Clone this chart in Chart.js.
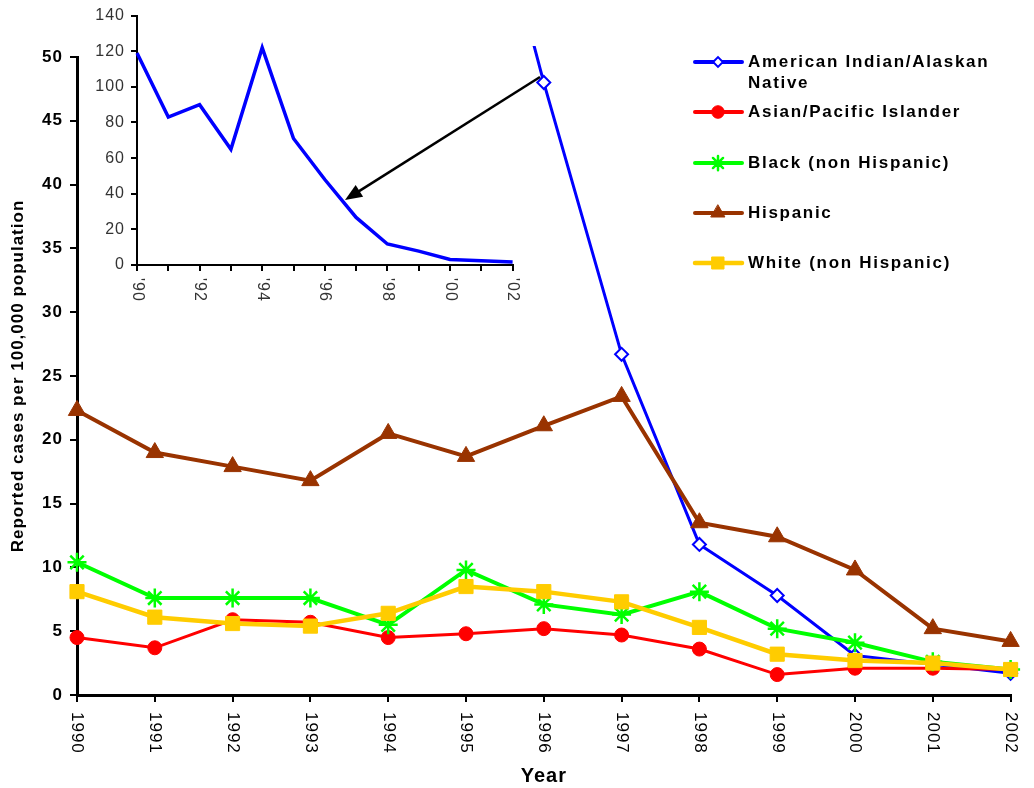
<!DOCTYPE html>
<html>
<head>
<meta charset="utf-8">
<script src="https://cdn.jsdelivr.net/npm/chart.js@4.4.1/dist/chart.umd.min.js"></script>
<style>
  body { margin: 0; background: #fff; }
  #wrap { position: relative; width: 1034px; height: 788px; }
  #main { position: absolute; left: 0; top: 0; }
  #inset { position: absolute; left: 80px; top: 0; }
</style>
</head>
<body>
<div id="wrap">
  <canvas id="main" width="1034" height="788"></canvas>
  <canvas id="inset" width="450" height="310"></canvas>
</div>
<script>
// data
const years = [1990, 1991, 1992, 1993, 1994, 1995, 1996, 1997, 1998, 1999, 2000, 2001, 2002];
const insetTickLabels = ["'90", "", "'92", "", "'94", "", "'96", "", "'98", "", "'00", "", "'02"];
const amIndian = [119, 83, 90, 65, 122, 71, 48.0, 26.7, 11.8, 7.8, 3.1, 2.4, 1.7];
const asian    = [4.5, 3.7, 5.9, 5.7, 4.5, 4.8, 5.2, 4.7, 3.6, 1.6, 2.1, 2.1, 2.0];
const black    = [10.4, 7.6, 7.6, 7.6, 5.5, 9.8, 7.1, 6.3, 8.1, 5.2, 4.1, 2.6, 2.0];
const hispanic = [22.3, 19.0, 17.9, 16.8, 20.5, 18.7, 21.1, 23.4, 13.5, 12.4, 9.8, 5.2, 4.2];
const white    = [8.1, 6.1, 5.6, 5.4, 6.4, 8.5, 8.1, 7.3, 5.3, 3.2, 2.7, 2.5, 2.0];
const seriesNames = [
  ['American Indian/Alaskan', 'Native'],
  ['Asian/Pacific Islander'],
  ['Black (non Hispanic)'],
  ['Hispanic'],
  ['White (non Hispanic)']
];

Chart.defaults.font.family = '"Liberation Sans", Arial, sans-serif';
Chart.defaults.color = '#000';

var clipBox = {left: 15, top: 11, right: 15, bottom: 15};

function ds(data, color, width, style, radius, fill, bw, order) {
  return {
    data: data,
    borderColor: color,
    borderWidth: width,
    pointStyle: style,
    pointRadius: radius,
    pointBackgroundColor: fill,
    pointBorderColor: color,
    pointBorderWidth: bw,
    tension: 0,
    clip: clipBox,
    order: order
  };
}

const mainSets = [
  ds(amIndian, '#0000FF', 3, 'rectRot', 6.5, '#FFFFFF', 2, 5),
  ds(asian, '#FF0000', 3, 'circle', 7, '#FF0000', 1, 4),
  ds(black, '#00FF00', 4, 'star', 9.5, '#00FF00', 2.5, 3),
  ds(hispanic, '#993300', 4, 'triangle', 10, '#993300', 1, 2),
  ds(white, '#FFCC00', 4.5, 'rect', 10, '#FFCC00', 1, 1)
];

// legend rows (y of the line sample) and marker scale
var legendRows = [62, 112, 163, 213, 263];
var legendMarker = [0.75, 0.9, 0.75, 0.8, 0.85];

const mainDecor = {
  id: 'mainDecor',
  beforeDraw(chart) {
    chart.ctx.letterSpacing = '1px';
  },
  afterDraw(chart) {
    var ctx = chart.ctx;
    var xs = chart.scales.x;

    // x tick labels, reading downward
    ctx.save();
    ctx.font = '17px "Liberation Sans", Arial, sans-serif';
    ctx.fillStyle = '#000';
    ctx.letterSpacing = '1px';
    ctx.textAlign = 'left';
    ctx.textBaseline = 'middle';
    years.forEach(function (yr, i) {
      var x = xs.getPixelForTick(i);
      ctx.save();
      ctx.translate(x, xs.top + 17);
      ctx.rotate(Math.PI / 2);
      ctx.fillText(String(yr), 0, 0);
      ctx.restore();
    });
    ctx.restore();

    // arrow pointing at the inset
    ctx.save();
    var x1 = 540, y1 = 77, x2 = 345, y2 = 200;
    var ang = Math.atan2(y2 - y1, x2 - x1);
    ctx.strokeStyle = '#000';
    ctx.fillStyle = '#000';
    ctx.lineWidth = 2.5;
    ctx.beginPath();
    ctx.moveTo(x1, y1);
    ctx.lineTo(x2 - 12 * Math.cos(ang), y2 - 12 * Math.sin(ang));
    ctx.stroke();
    ctx.beginPath();
    ctx.moveTo(x2, y2);
    ctx.lineTo(x2 - 17 * Math.cos(ang) + 7 * Math.sin(ang), y2 - 17 * Math.sin(ang) - 7 * Math.cos(ang));
    ctx.lineTo(x2 - 17 * Math.cos(ang) - 7 * Math.sin(ang), y2 - 17 * Math.sin(ang) + 7 * Math.cos(ang));
    ctx.closePath();
    ctx.fill();
    ctx.restore();

    // legend
    ctx.save();
    ctx.font = 'bold 17px "Liberation Sans", Arial, sans-serif';
    ctx.letterSpacing = '1.7px';
    ctx.textAlign = 'left';
    ctx.textBaseline = 'middle';
    mainSets.forEach(function (d, i) {
      var y = legendRows[i];
      ctx.strokeStyle = d.borderColor;
      ctx.lineWidth = Math.max(d.borderWidth, 4);
      ctx.lineCap = 'round';
      ctx.beginPath();
      ctx.moveTo(695, y);
      ctx.lineTo(742, y);
      ctx.stroke();
      ctx.fillStyle = d.pointBackgroundColor;
      ctx.strokeStyle = d.pointBorderColor;
      ctx.lineWidth = d.pointBorderWidth;
      Chart.helpers.drawPoint(ctx, {
        pointStyle: d.pointStyle,
        radius: d.pointRadius * legendMarker[i],
        borderWidth: d.pointBorderWidth,
        rotation: 0
      }, 718, y);
      ctx.fillStyle = '#000';
      seriesNames[i].forEach(function (line, j) {
        ctx.fillText(line, 748, y + j * 21);
      });
    });
    ctx.restore();
  }
};

new Chart(document.getElementById('main'), {
  type: 'line',
  data: { labels: years, datasets: mainSets },
  options: {
    responsive: false,
    animation: false,
    layout: { padding: { top: 57, right: 12, left: 0, bottom: 0 } },
    plugins: { legend: { display: false }, tooltip: { enabled: false } },
    scales: {
      x: {
        grid: { drawOnChartArea: false, color: '#000', lineWidth: 2, tickLength: 7 },
        border: { color: '#000', width: 3 },
        ticks: { color: 'rgba(0,0,0,0)', autoSkip: false, minRotation: 90, maxRotation: 90, font: { size: 17 } },
        title: { display: true, text: 'Year', color: '#000', font: { size: 20, weight: 'bold' }, padding: { top: 0, bottom: 0 } },
        afterFit: function (s) { s.height = 93; }
      },
      y: {
        min: 0,
        max: 50,
        grid: { drawOnChartArea: false, color: '#000', lineWidth: 2, tickLength: 7 },
        border: { color: '#000', width: 3 },
        ticks: { stepSize: 5, color: '#000', padding: 7, font: { size: 17, weight: 'bold' } },
        title: { display: true, text: 'Reported cases per 100,000 population', color: '#000', font: { size: 17, weight: 'bold' }, padding: { top: 8, bottom: 0 } },
        afterFit: function (s) { s.width = 77; }
      }
    }
  },
  plugins: [mainDecor]
});

// inset: full range of the American Indian/Alaskan Native series
const insetLabels = {
  id: 'insetLabels',
  beforeDraw(chart) {
    chart.ctx.letterSpacing = '1px';
  },
  afterDraw(chart) {
    var ctx = chart.ctx;
    var xs = chart.scales.x;
    ctx.save();
    ctx.font = '16px "Liberation Sans", Arial, sans-serif';
    ctx.fillStyle = '#333';
    ctx.letterSpacing = '1px';
    ctx.textAlign = 'left';
    ctx.textBaseline = 'middle';
    insetTickLabels.forEach(function (lab, i) {
      if (!lab) return;
      var x = xs.getPixelForTick(i);
      ctx.save();
      ctx.translate(x, xs.top + 13);
      ctx.rotate(Math.PI / 2);
      ctx.fillText(lab, 0, 0);
      ctx.restore();
    });
    ctx.restore();
  }
};

new Chart(document.getElementById('inset'), {
  type: 'line',
  data: {
    labels: insetTickLabels,
    datasets: [{ data: amIndian, borderColor: '#0000FF', borderWidth: 3.5, pointRadius: 0, tension: 0 }]
  },
  options: {
    responsive: false,
    animation: false,
    layout: { padding: { top: 15, right: 17, left: 0, bottom: 0 } },
    plugins: { legend: { display: false }, tooltip: { enabled: false } },
    scales: {
      x: {
        grid: { drawOnChartArea: false, color: '#000', lineWidth: 2, tickLength: 6 },
        border: { color: '#000', width: 2 },
        ticks: { color: 'rgba(0,0,0,0)', autoSkip: false, minRotation: 90, maxRotation: 90 },
        afterFit: function (s) { s.height = 45; }
      },
      y: {
        min: 0,
        max: 140,
        grid: { drawOnChartArea: false, color: '#000', lineWidth: 2, tickLength: 6 },
        border: { color: '#000', width: 2 },
        ticks: { stepSize: 20, color: '#333', padding: 6, font: { size: 16 } },
        afterFit: function (s) { s.width = 57; }
      }
    }
  },
  plugins: [insetLabels]
});
</script>
</body>
</html>
